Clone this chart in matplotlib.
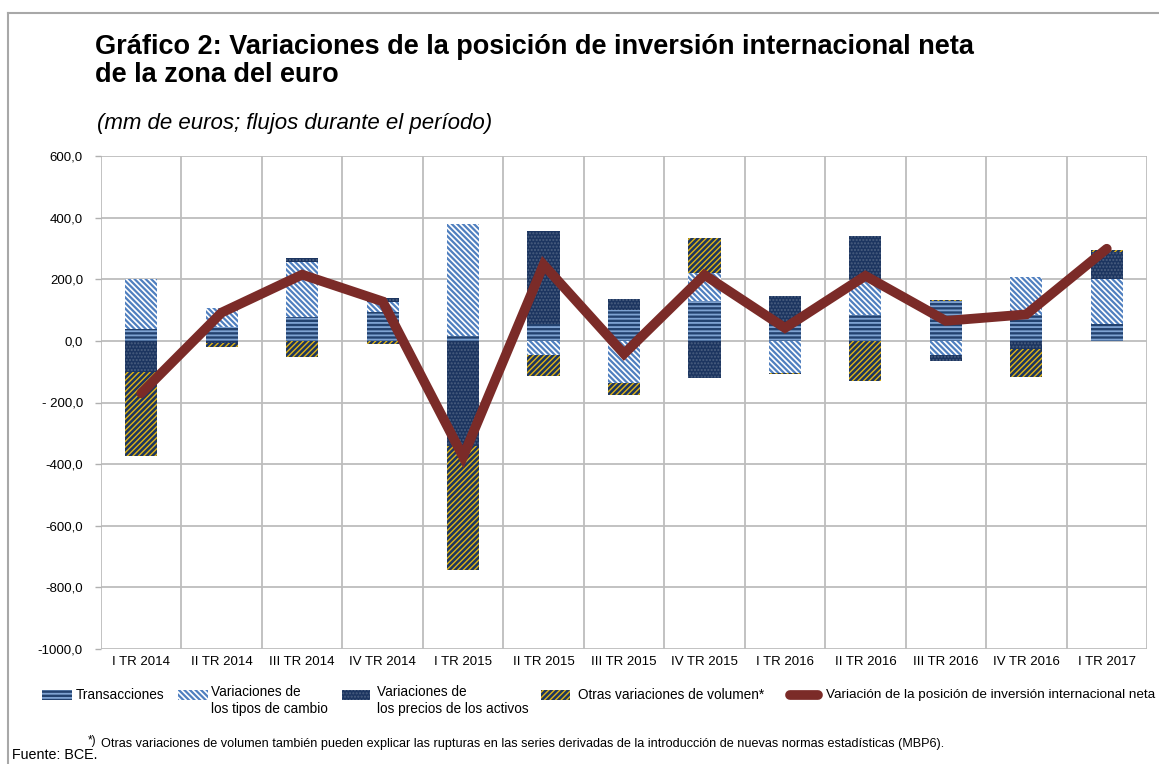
import matplotlib
matplotlib.use("Agg")
import matplotlib.pyplot as plt
import numpy as np
from matplotlib.patches import Rectangle
from matplotlib.lines import Line2D

plt.rcParams['font.family'] = ['Liberation Sans', 'DejaVu Sans']

categories = ["I TR 2014", "II TR 2014", "III TR 2014", "IV TR 2014",
              "I TR 2015", "II TR 2015", "III TR 2015", "IV TR 2015",
              "I TR 2016", "II TR 2016", "III TR 2016", "IV TR 2016", "I TR 2017"]
transacciones = [38, 45, 78, 94, 16, 55, 101, 130, 55, 84, 130, 84, 55]
tipos_cambio = [162, 62, 179, 33, 364, -45, -136, 91, -104, 114, -45, 124, 146]
precios = [-100, -8, 12, 13, -341, 302, 35, -120, 91, 143, -19, -27, 87]
otras = [-273, -12, -52, -10, -403, -69, -39, 113, -5, -130, 3, -89, 8]
variacion_pii = [-170, 92, 215, 128, -376, 247, -42, 214, 42, 211, 65, 86, 299]

ytick_vals = [600, 400, 200, 0, -200, -400, -600, -800, -1000]
ytick_labels = ["600,0", "400,0", "200,0", "0,0", "- 200,0", "-400,0", "-600,0", "-800,0", "-1000,0"]

series = [
    ("Transacciones", transacciones,
     dict(facecolor='#23426f', edgecolor='#7fa3d2', hatch='----'), 1.3),
    ("Variaciones de\nlos tipos de cambio", tipos_cambio,
     dict(facecolor='white', edgecolor='#4f7fbf', hatch='\\' * 6), 1.6),
    ("Variaciones de\nlos precios de los activos", precios,
     dict(facecolor='#1c3560', edgecolor='#4a5f80', hatch='.....'), 1.0),
    ("Otras variaciones de volumen*", otras,
     dict(facecolor='#1c3560', edgecolor='#e0b414', hatch='/' * 6), 1.0),
]

W, H = 1159, 764
fig = plt.figure(figsize=(W / 100, H / 100), dpi=100)
ax = fig.add_axes([101 / W, (H - 649) / H, (1147 - 101) / W, (649 - 156) / H])

x = np.arange(len(categories))
pos_bottom = np.zeros(len(categories))
neg_bottom = np.zeros(len(categories))
for name, vals, style, hlw in series:
    v = np.array(vals, dtype=float)
    bottom = np.where(v >= 0, pos_bottom, neg_bottom)
    with plt.rc_context({'hatch.linewidth': hlw}):
        ax.bar(x, v, width=0.4, bottom=bottom, linewidth=0, zorder=3, **style)
    pos_bottom += np.where(v >= 0, v, 0)
    neg_bottom += np.where(v < 0, v, 0)

ax.plot(x, variacion_pii, color='#7b2b28', linewidth=7, solid_joinstyle='miter',
        solid_capstyle='round', zorder=5)

ax.set_xlim(-0.5, len(categories) - 0.5)
ax.set_ylim(-1000, 600)
ax.set_yticks(ytick_vals)
ax.set_yticklabels(ytick_labels, fontsize=9.5)
ax.set_xticks(x)
ax.set_xticklabels(categories, fontsize=9.5)
ax.tick_params(axis='x', length=0, pad=5)
ax.tick_params(axis='y', length=4, color='#b0b0b0', width=1, pad=9)

gc = '#bdbdbd'
for yv in ytick_vals:
    ax.axhline(yv, color=gc, linewidth=1.3, zorder=1)
for xb in np.arange(-0.5, len(categories), 1.0):
    ax.axvline(xb, color=gc, linewidth=1.3, zorder=1)
for s in ax.spines.values():
    s.set_visible(False)

# outer frame
fig.add_artist(Line2D([8 / W, 1.0], [1 - 13 / H, 1 - 13 / H], color='#a8a8a8', linewidth=1.5))
fig.add_artist(Line2D([8 / W, 8 / W], [0, 1 - 13 / H], color='#a8a8a8', linewidth=1.5))

# titles
fig.text(95 / W, 1 - 54 / H, "Gráfico 2: Variaciones de la posición de inversión internacional neta",
         fontsize=19.5, fontweight='bold', va='baseline', ha='left')
fig.text(95 / W, 1 - 82 / H, "de la zona del euro",
         fontsize=19.5, fontweight='bold', va='baseline', ha='left')
fig.text(97 / W, 1 - 129 / H, "(mm de euros; flujos durante el período)", fontsize=16,
         style='italic', va='baseline', ha='left')

# legend (manual)
leg_y = 1 - 695 / H
sw_h = 10 / H
sw_specs = [(42, 72, 76), (178, 208, 211), (342, 370, 377), (541, 570, 578)]
for (x0, x1, tx), (name, vals, style, hlw) in zip(sw_specs, series):
    with plt.rc_context({'hatch.linewidth': hlw}):
        r = Rectangle((x0 / W, leg_y - sw_h / 2), (x1 - x0) / W, sw_h, transform=fig.transFigure,
                      linewidth=0, **style)
    fig.add_artist(r)
    if "\n" in name:
        l1, l2 = name.split("\n")
        fig.text(tx / W, 1 - 692 / H, l1, fontsize=9.8, va='center', ha='left')
        fig.text(tx / W, 1 - 709 / H, l2, fontsize=9.8, va='center', ha='left')
    else:
        fig.text(tx / W, leg_y, name, fontsize=9.8, va='center', ha='left')
fig.add_artist(Line2D([790 / W, 818 / W], [leg_y, leg_y], color='#7b2b28', linewidth=7,
                      solid_capstyle='round'))
fig.text(826 / W, leg_y, "Variación de la posición de inversión internacional neta", fontsize=9.7,
         va='center', ha='left')

fig.text(88 / W, 1 - 741 / H, "*)", fontsize=8.5, va='center', ha='left')
fig.text(101 / W, 1 - 744 / H,
         "Otras variaciones de volumen también pueden explicar las rupturas en las series derivadas de la introducción de nuevas normas estadísticas (MBP6).",
         fontsize=9.1, va='center', ha='left')
fig.text(12 / W, 1 - 755 / H, "Fuente: BCE.", fontsize=10.3, va='center', ha='left')

fig.savefig("out.png", dpi=100)
